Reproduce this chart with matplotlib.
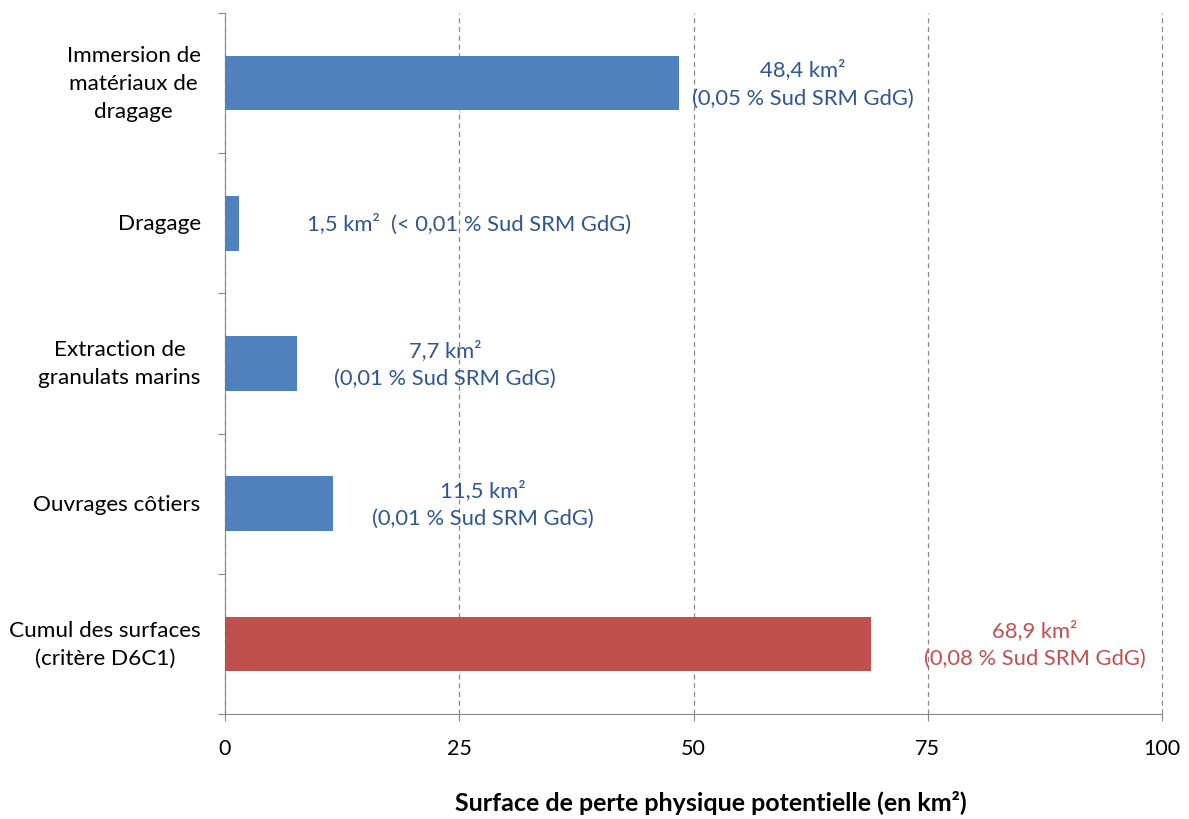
import matplotlib.pyplot as plt

# data
categories = ["Immersion de\nmatériaux de\ndragage", "Dragage", "Extraction de\ngranulats marins",
              "Ouvrages côtiers", "Cumul des surfaces\n(critère D6C1)"]
values = [48.4, 1.5, 7.7, 11.5, 68.9]
labels = ["48,4 km²\n(0,05 % Sud SRM GdG)", "1,5 km²  (< 0,01 % Sud SRM GdG)",
          "7,7 km²\n(0,01 % Sud SRM GdG)", "11,5 km²\n(0,01 % Sud SRM GdG)",
          "68,9 km²\n(0,08 % Sud SRM GdG)"]
label_offsets = [13.3, 24.6, 15.8, 16.0, 17.5]
xticks = [0, 25, 50, 75, 100]

plt.rcParams['font.family'] = ['Lato', 'DejaVu Sans']

blue = '#4F81BD'
red = '#C0504D'
bar_colors = [blue, blue, blue, blue, red]
text_colors = ['#2F5690', '#2F5690', '#2F5690', '#2F5690', red]

fig = plt.figure(figsize=(11.89, 8.2), dpi=100)
ax = fig.add_axes([225/1189, 1-715/820, (1162-225)/1189, (715-14)/820])

ypos = list(range(len(categories)))
ax.barh(ypos, values, height=0.39, color=bar_colors, zorder=3)

for y, v, lab, off, c in zip(ypos, values, labels, label_offsets, text_colors):
    ax.text(v + off, y, lab, ha='center', va='center', color=c, fontsize=15.8,
            linespacing=1.5, zorder=4)

ax.set_xlim(0, 100)
ax.set_ylim(4.5, -0.5)
ax.set_xticks(xticks)
ax.set_xticklabels([str(t) for t in xticks], fontsize=15.5)
ax.tick_params(axis='x', length=5, color='#888888', pad=12)

# category labels between boundary ticks
ax.set_yticks([i + 0.5 for i in range(-1, len(categories))])
ax.set_yticklabels([])
ax.tick_params(axis='y', length=5, color='#888888')
for y, cat in zip(ypos, categories):
    ax.text(-2.6, y, cat, ha='right', va='center', fontsize=16.2, linespacing=1.5,
            multialignment='center')

ax.grid(axis='x', linestyle=(0, (4, 3)), color='#888888', linewidth=0.9, zorder=0)
for gl in ax.get_xgridlines():
    gl.set_clip_on(False)
for s in ['top', 'right']:
    ax.spines[s].set_visible(False)
for s in ['left', 'bottom']:
    ax.spines[s].set_color('#888888')

ax.set_xlabel("Surface de perte physique potentielle (en km²)", fontsize=18,
              fontweight='bold')
ax.xaxis.set_label_coords(0.519, -0.126)
ax.xaxis.label.set_va('center')

fig.savefig('out.png', dpi=100)
